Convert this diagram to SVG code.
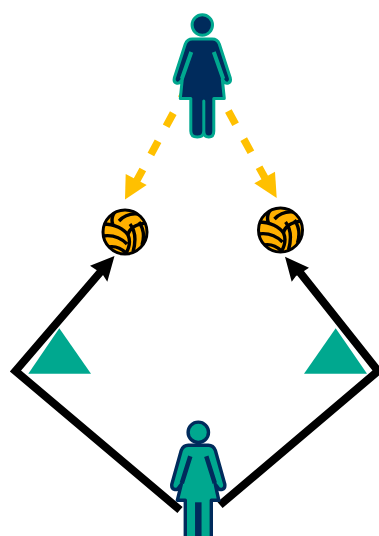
<svg xmlns="http://www.w3.org/2000/svg" width="379" height="536" viewBox="0 0 379 536">
<style>
.a{fill:#002b5c;stroke:#00a88f;stroke-width:3;stroke-linejoin:round}
.b{fill:#00a88f;stroke:#002b5c;stroke-width:3.4;stroke-linejoin:round}
.sl{fill:none;stroke-linecap:butt}
.ln{fill:none;stroke:#000;stroke-width:8;stroke-linejoin:miter}
.ah{fill:#000}
.yl{fill:none;stroke:#ffc000;stroke-width:7.5;stroke-dasharray:15 17}
.yh{fill:#ffc000}
.t{fill:#00a88f}
.bc{fill:#ffb000}
.bo{fill:none;stroke:#000;stroke-width:3}
.bs{fill:none;stroke:#000;stroke-width:3.4}
</style>
<defs>
<clipPath id="bclip"><circle r="22"/></clipPath>
<g id="ball">
<circle r="22" class="bc"/>
<g clip-path="url(#bclip)"><path class="bs" d="M-22,-8 C-10,-8 -1,-3 3,3 M-22,4 Q-8,2 2,12 M-17,15 Q-7,13 1,21 M3,3 Q7,12 0,23 M-9,-22 Q-15,-14 -12,-7 M-6,-11 Q3,-21 18,-17 M3,3 Q5,-7 21,-9 M5,-8 Q13,2 8,20 M14,-10 Q21,0 17,13"/></g>
<circle r="22" class="bo"/>
</g>
</defs>
<g id="connectors">
<path class="yl" d="M188.500,85 L136,182"/>
<path class="yh" d="M125,199.500 L125.700,174 L146.700,185 Z"/>
<path class="yl" d="M213,83 L265,178"/>
<path class="yh" d="M276.700,198 L275,171.700 L254.300,183.300 Z"/>
<path class="ln" d="M180,510 L15.500,371 L103,269"/>
<path class="ah" d="M114.500,256 L90,265.700 L98,271 L103,275 L107.300,281.700 Z"/>
<path class="ln" d="M220,505 L378,371 L298,270"/>
<path class="ah" d="M285,256.700 L309,267.700 L301,273 L296,276 L291.700,281.700 Z"/>
</g>
<g id="triangle-left"><path class="t" d="M59.300,328.300 L91,373.700 L28.300,373.700 Z"/></g>
<g id="triangle-right"><path class="t" d="M335.700,328.300 L367,373.700 L304,373.700 Z"/></g>
<g id="ball-left"><use href="#ball" x="125" y="232"/></g>
<g id="ball-right"><use href="#ball" x="280.500" y="230"/></g>
<g id="woman-top" class="a" transform="translate(202.300 25)">
<circle r="10.200"/>
<path d="M-10,14 L10,14 Q15,14 17,19 L28,53 Q29,57 26,58 Q23,59 21,55.500 L20,54 L22,73.500 L11.500,73.500 L11.500,106 Q11.500,112 6.500,112 Q1.500,112 1.500,106 L1.500,76 L1.500,106 Q1.500,112 -5,112 Q-11.500,112 -11.500,106 L-11.500,73.500 L-22,73.500 L-20,54 L-21,55.500 Q-23,59 -26,58 Q-29,57 -28,53 L-17,19 Q-15,14 -10,14 Z"/>
<path class="sl" stroke-width="4" d="M-11,27 L-20.500,54 M11.500,27 L21,54"/>
</g>
<g id="woman-bottom" class="b" transform="translate(198.300 432.300)">
<circle r="10.200"/>
<path d="M-10,13 L10,13 Q15,13 17,18 L26.500,52 Q27,56 24,57 Q21,58 19,54.500 L17,52 L20.500,68 L13,68 L13,112 L-13,112 L-13,68 L-21,68 L-17,52 L-19,54.500 Q-21,58 -24,57 Q-27,56 -26.500,52 L-17,18 Q-15,13 -10,13 Z"/>
<path class="sl" stroke-width="4.500" d="M-8,24 L-16.500,51 M8,24 L16.500,51"/>
<path class="sl" stroke-width="6.500" d="M0,70 L0,112"/>
</g>
</svg>
